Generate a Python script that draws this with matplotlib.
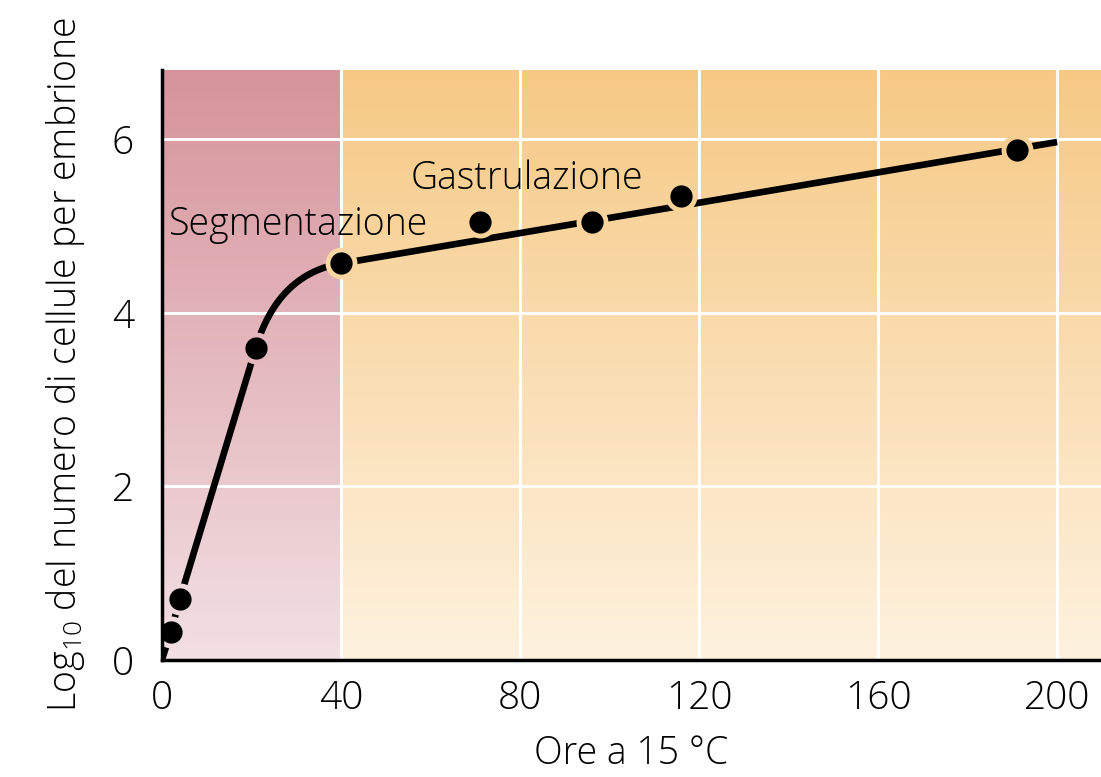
import numpy as np
import matplotlib
matplotlib.use("Agg")
import matplotlib.pyplot as plt
from matplotlib.colors import LinearSegmentedColormap

# measured points (hours at 15 C, log10 of cell number)
hours = [2, 4, 21, 40, 71, 96, 116, 191]
log_cells = [0.32, 0.70, 3.60, 4.57, 5.05, 5.05, 5.35, 5.88]

# knots of the drawn trend line
trend_x = [0, 2, 4, 21, 40, 200]
trend_y = [0.0, 0.32, 0.70, 3.60, 4.57, 5.97]

x_ticks = [0, 40, 80, 120, 160, 200]
y_ticks = [0, 2, 4, 6]
cleavage_end = 40

plt.rcParams['font.family'] = ['Open Sans', 'DejaVu Sans']
plt.rcParams['font.weight'] = 'light'
plt.rcParams['axes.labelweight'] = 'light'
plt.rcParams['mathtext.fontset'] = 'custom'
plt.rcParams['mathtext.rm'] = 'Open Sans:light'

fig = plt.figure(figsize=(11.01, 7.77), dpi=100)
ax = fig.add_axes([0.147, 0.1506, 0.853, 0.7593])
xmax, ymax = 209.8, 6.8

# gradient backgrounds
pink = LinearSegmentedColormap.from_list('pink', ['#f2e0e3', '#d6939b'])
orange = LinearSegmentedColormap.from_list('orange', ['#fef2df', '#f6c985'])
grad = np.linspace(0, 1, 256).reshape(-1, 1)
ax.imshow(grad, cmap=pink, origin='lower', aspect='auto',
          extent=[0, cleavage_end, 0, ymax], zorder=0)
ax.imshow(grad, cmap=orange, origin='lower', aspect='auto',
          extent=[cleavage_end, xmax, 0, ymax], zorder=0)

# grid
for gx in x_ticks[1:]:
    ax.axvline(gx, color='white', lw=2.2, zorder=1)
for gy in y_ticks[1:]:
    ax.axhline(gy, color='white', lw=2.2, zorder=1)

# trend line: straight pieces, bezier bend between 21 and 40 h
x0, y0 = trend_x[3], trend_y[3]
x1, y1 = trend_x[4], trend_y[4]
s0 = (y0 - trend_y[2]) / (x0 - trend_x[2])
s1 = (trend_y[5] - y1) / (trend_x[5] - x1)
cx = (y1 - y0 + s0 * x0 - s1 * x1) / (s0 - s1)
cy = y0 + s0 * (cx - x0)
t = np.linspace(0, 1, 60)
bx = (1 - t) ** 2 * x0 + 2 * (1 - t) * t * cx + t ** 2 * x1
by = (1 - t) ** 2 * y0 + 2 * (1 - t) * t * cy + t ** 2 * y1
line_x = list(trend_x[:4]) + list(bx[1:-1]) + list(trend_x[4:])
line_y = list(trend_y[:4]) + list(by[1:-1]) + list(trend_y[4:])
ax.plot(line_x, line_y, color='black', lw=4.8, solid_capstyle='butt', zorder=3)

# dots with a halo in the local background colour
for hx, hy in zip(hours, log_cells):
    cmap = pink if hx < cleavage_end else orange
    halo = cmap(hy / ymax)
    ax.plot(hx, hy, 'o', ms=23, color=halo, mec='none', zorder=4)
    ax.plot(hx, hy, 'o', ms=16, color='black', mec='none', zorder=5)

ax.text(1.5, 5.02, 'Segmentazione', fontsize=27, va='center', ha='left', zorder=6)
ax.text(55.5, 5.55, 'Gastrulazione', fontsize=27, va='center', ha='left', zorder=6)

ax.set_xlim(0, xmax)
ax.set_ylim(0, ymax)
ax.set_xticks(x_ticks)
ax.set_yticks(y_ticks)
ax.tick_params(length=0, labelsize=28, pad=14)
ax.tick_params(axis='y', pad=20)
for side in ['top', 'right']:
    ax.spines[side].set_visible(False)
for side in ['left', 'bottom']:
    ax.spines[side].set_linewidth(2.5)
    ax.spines[side].set_zorder(6)

ax.set_xlabel('Ore a 15 °C', fontsize=27, labelpad=12)
ax.set_ylabel('Log$_{10}$ del numero di cellule per embrione', fontsize=27, labelpad=18)

fig.savefig('out.png', dpi=100)
